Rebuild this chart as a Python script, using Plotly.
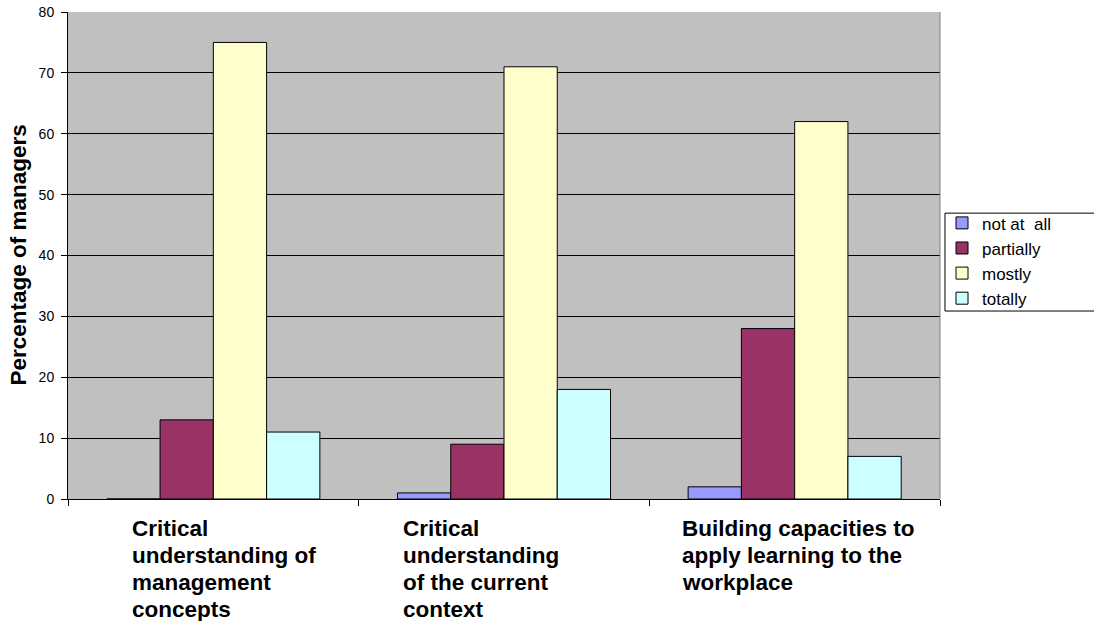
import plotly.graph_objects as go

# Survey results: share of managers per learning outcome and rating
categories = [
    "Critical understanding of management concepts",
    "Critical understanding of the current context",
    "Building capacities to apply learning to the workplace",
]
category_lines = [
    ["Critical", "understanding of", "management", "concepts"],
    ["Critical", "understanding", "of the current", "context"],
    ["Building capacities to", "apply learning to the", "workplace"],
]
series_names = ["not at&nbsp; all", "partially", "mostly", "totally"]
not_at_all = [0, 1, 2]
partially = [13, 9, 28]
mostly = [75, 71, 62]
totally = [11, 18, 7]
y_ticks = [0, 10, 20, 30, 40, 50, 60, 70, 80]

series_values = [not_at_all, partially, mostly, totally]
colors = ["#9999FF", "#993366", "#FFFFCC", "#CCFFFF"]

FONT = "Liberation Sans, Arial, sans-serif"

fig = go.Figure()
for name, vals, col in zip(series_names, series_values, colors):
    fig.add_trace(go.Bar(
        x=categories, y=vals, name=name,
        marker=dict(color=col, line=dict(color="black", width=1)),
    ))

# Category labels: left-aligned wrapped text beneath each group, one line at a time
label_shift = [-83, -103, -115]
LINE_STEP = 27
for cat, lines, dx in zip(categories, category_lines, label_shift):
    for i, line in enumerate(lines):
        fig.add_annotation(
            x=cat, xref="x", y=0, yref="paper",
            xanchor="left", yanchor="middle", align="left",
            xshift=dx, yshift=-(29 + LINE_STEP * i),
            text=f"<b>{line}</b>", showarrow=False,
            font=dict(family=FONT, size=22.5, color="black"),
        )

# Rotated y-axis title
fig.add_annotation(
    x=0, xref="paper", y=0.5, yref="paper",
    xanchor="center", yanchor="middle", xshift=-50,
    text="<b>Percentage of managers</b>", textangle=-90, showarrow=False,
    font=dict(family=FONT, size=22.5, color="black"),
)

fig.update_layout(
    width=1094, height=621,
    margin=dict(l=68, r=154, t=12, b=122, autoexpand=False),
    paper_bgcolor="white", plot_bgcolor="#C0C0C0",
    barmode="group", bargap=0.267, bargroupgap=0,
    font=dict(family=FONT, color="black"),
    legend=dict(
        x=1.0023, xanchor="left", y=0.603, yanchor="top",
        bgcolor="rgba(0,0,0,0)", borderwidth=0,
        font=dict(family=FONT, size=17, color="black"),
        traceorder="normal",
    ),
    showlegend=True,
)

fig.update_xaxes(
    showticklabels=False, tickson="boundaries", automargin=False,
    ticks="outside", ticklen=6, tickcolor="black",
    showline=True, linecolor="black", linewidth=1,
    showgrid=False, mirror=False,
)
fig.update_yaxes(
    range=[0, 80], tickvals=y_ticks, ticktext=[str(v) for v in y_ticks],
    automargin=False,
    ticks="outside", ticklen=6, tickcolor="black", ticklabelstandoff=4,
    tickfont=dict(family=FONT, size=14, color="black"),
    showline=True, linecolor="black", linewidth=1,
    showgrid=True, gridcolor="black", gridwidth=1,
    zeroline=False,
)

# Grey border on the right edge of the plot area
fig.add_shape(type="line", xref="paper", yref="paper",
              x0=1, x1=1, y0=0, y1=1, line=dict(color="#808080", width=1))
# Legend frame reaching the right edge of the page
fig.add_shape(type="rect", xref="paper", yref="paper",
              x0=1.0057, x1=1.2, y0=0.386, y1=0.587,
              line=dict(color="black", width=1), fillcolor="white",
              layer="above")

fig.write_html("out.html")
